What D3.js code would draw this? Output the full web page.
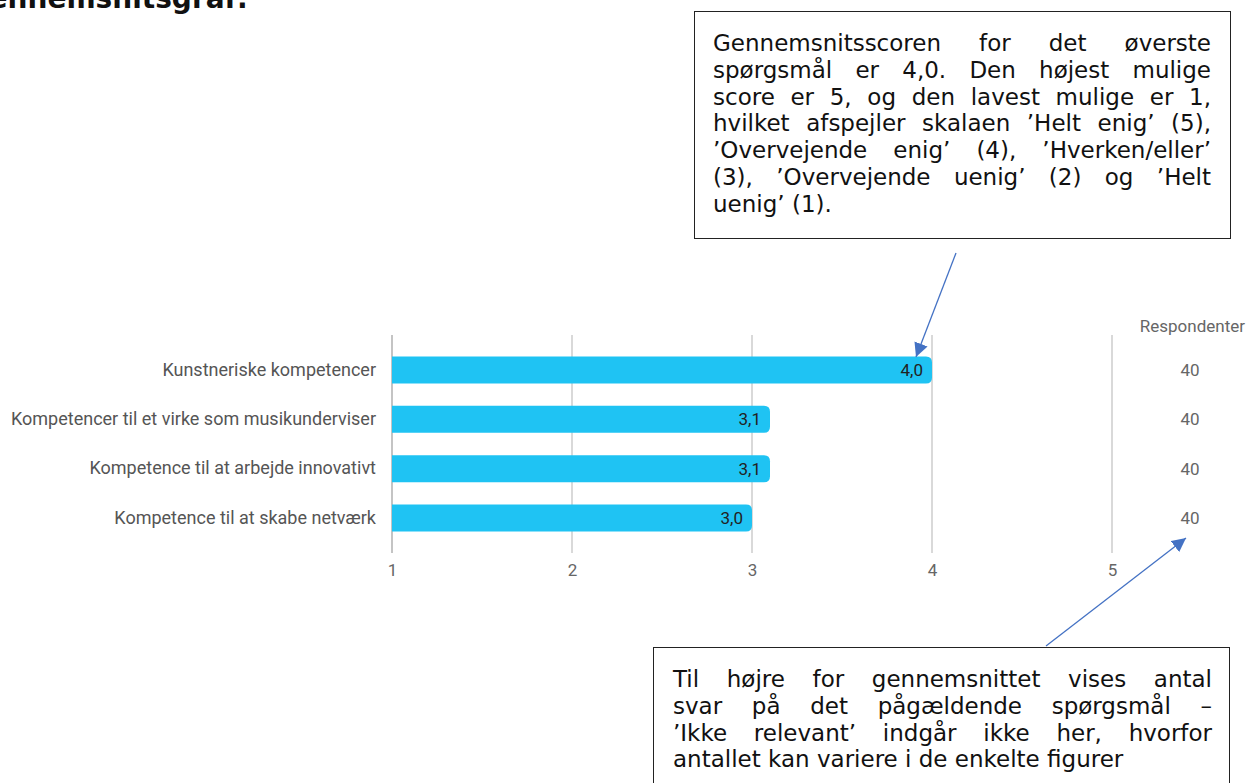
<!DOCTYPE html>
<html><head><meta charset="utf-8">
<script src="https://cdn.jsdelivr.net/npm/d3@7"></script>
<style>
html,body{margin:0;padding:0;background:#fff;overflow:hidden;}
#wrap{position:relative;width:1248px;height:783px;}
svg{position:absolute;left:0;top:0;}
.box{position:absolute;border:1.3px solid #222;background:#fff;font-family:"DejaVu Sans",Verdana,sans-serif;font-size:23px;color:#111;box-sizing:border-box;}
.box .ln{text-align:justify;text-align-last:justify;line-height:26.8px;white-space:nowrap;}
.box .ln.last{text-align-last:left;}
</style></head>
<body><div id="wrap"></div>
<script>
const categories = ["Kunstneriske kompetencer","Kompetencer til et virke som musikunderviser","Kompetence til at arbejde innovativt","Kompetence til at skabe netværk"];
const means = [4.0, 3.1, 3.1, 3.0];
const respondents = [40, 40, 40, 40];
const xTicks = [1, 2, 3, 4, 5];
const title = "Gennemsnitsgraf:";
const respHeader = "Respondenter";
const noteTop = ["Gennemsnitsscoren for det øverste","spørgsmål er 4,0. Den højest mulige","score er 5, og den lavest mulige er 1,","hvilket afspejler skalaen ’Helt enig’ (5),","’Overvejende enig’ (4), ’Hverken/eller’","(3), ’Overvejende uenig’ (2) og ’Helt","uenig’ (1)."];
const noteBottom = ["Til højre for gennemsnittet vises antal","svar på det pågældende spørgsmål –","’Ikke relevant’ indgår ikke her, hvorfor","antallet kan variere i de enkelte figurer"];

const W = 1248, H = 783;
const wrap = d3.select("#wrap");
const svg = wrap.append("svg").attr("width", W).attr("height", H);

svg.append("text").attr("x", 248).attr("y", 8).attr("text-anchor","end")
  .attr("font-family","'DejaVu Sans',Verdana,sans-serif").attr("font-weight","bold")
  .attr("font-size", 28).attr("fill","#111").text(title);

const x = d3.scaleLinear().domain([1,5]).range([392,1112]);
const y = d3.scaleBand().domain(categories).range([335,553]).paddingInner(0.453).paddingOuter(0.436);

const fontUI = "Roboto, 'Noto Sans', sans-serif";

// gridlines
svg.append("g").selectAll("line").data(xTicks).join("line")
  .attr("x1", d=>x(d)).attr("x2", d=>x(d)).attr("y1",335).attr("y2",553)
  .attr("stroke", d=> d===1 ? "#c4c4c4" : "#d9d9d9").attr("stroke-width", 2);

// tick labels via axis
const ax = svg.append("g").attr("transform","translate(0,553)")
  .call(d3.axisBottom(x).tickValues(xTicks).tickSize(0).tickPadding(11).tickFormat(d3.format("d")));
ax.select(".domain").remove();
ax.selectAll("text").attr("font-family",fontUI).attr("font-size",17).attr("fill","#666");

// bars with rounded right end
const r = 6;
function barPath(d, i){
  const x0 = x(1), x1 = x(means[i]), y0 = y(d), h = y.bandwidth();
  return `M${x0},${y0}H${x1-r}Q${x1},${y0} ${x1},${y0+r}V${y0+h-r}Q${x1},${y0+h} ${x1-r},${y0+h}H${x0}Z`;
}
svg.append("g").selectAll("path").data(categories).join("path")
  .attr("d", barPath).attr("fill","#1fc3f3");

// value labels
svg.append("g").selectAll("text").data(categories).join("text")
  .attr("x",(d,i)=>x(means[i])-9).attr("y",d=>y(d)+y.bandwidth()/2).attr("dy","0.36em")
  .attr("text-anchor","end").attr("font-family",fontUI).attr("font-size",17).attr("fill","#222")
  .text((d,i)=>d3.format(".1f")(means[i]).replace(".",","));

// category labels
const yAx = svg.append("g").attr("transform","translate(392,0)")
  .call(d3.axisLeft(y).tickSize(0).tickPadding(16));
yAx.select(".domain").remove();
yAx.selectAll("text").attr("font-family",fontUI).attr("font-size",18).attr("fill","#555");

// respondents
svg.append("text").attr("x",1245).attr("y",332).attr("text-anchor","end")
  .attr("font-family",fontUI).attr("font-size",17).attr("fill","#666").text(respHeader);
svg.append("g").selectAll("text").data(categories).join("text")
  .attr("x",1190).attr("y",d=>y(d)+y.bandwidth()/2).attr("dy","0.36em").attr("text-anchor","middle")
  .attr("font-family",fontUI).attr("font-size",17).attr("fill","#666").text((d,i)=>respondents[i]);

// arrows
const defs = svg.append("defs");
defs.append("marker").attr("id","ah").attr("viewBox","0 0 10 10").attr("refX",10).attr("refY",5)
  .attr("markerWidth",14).attr("markerHeight",14).attr("markerUnits","userSpaceOnUse").attr("orient","auto")
  .append("path").attr("d","M0,0L10,5L0,10Z").attr("fill","#4472c4");
svg.append("line").attr("x1",956).attr("y1",253).attr("x2",916).attr("y2",357)
  .attr("stroke","#4472c4").attr("stroke-width",1.3).attr("marker-end","url(#ah)");
svg.append("line").attr("x1",1046).attr("y1",646).attr("x2",1186).attr("y2",538)
  .attr("stroke","#4472c4").attr("stroke-width",1.3).attr("marker-end","url(#ah)");

// annotation boxes
function box(left, top, width, height, padL, padR, padT, lines){
  const b = wrap.append("div").attr("class","box")
    .style("left",left+"px").style("top",top+"px").style("width",width+"px").style("height",height+"px")
    .style("padding",`${padT}px ${padR}px 0 ${padL}px`);
  lines.forEach((t,i)=> b.append("div").attr("class","ln"+(i===lines.length-1?" last":"")).text(t));
}
box(694, 11, 537, 228, 18, 19, 18, noteTop);
box(653, 647, 577, 150, 19, 17, 18, noteBottom);
</script></body></html>
